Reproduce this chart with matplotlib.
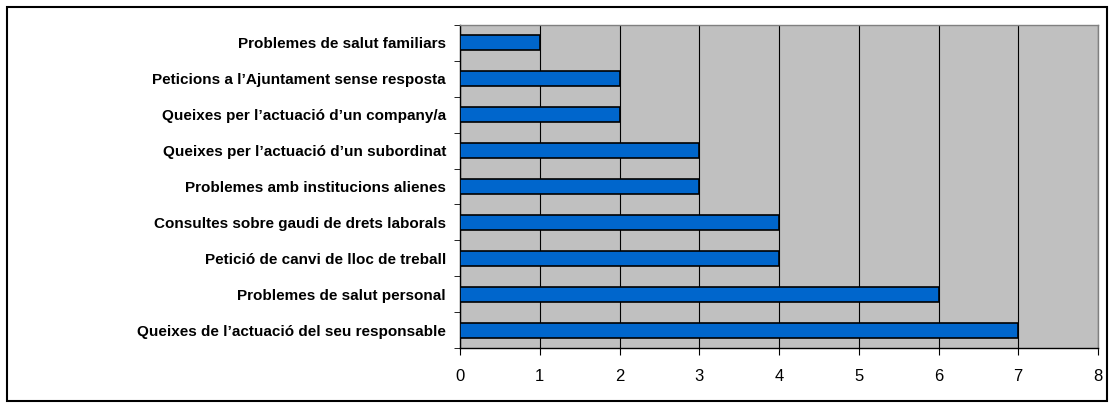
import matplotlib
matplotlib.use("Agg")
import matplotlib.pyplot as plt
from matplotlib.patches import Rectangle

# categories from bottom to top, as drawn
categories = [
    "Queixes de l\u2019actuació del seu responsable",
    "Problemes de salut personal",
    "Petició de canvi de lloc de treball",
    "Consultes sobre gaudi de drets laborals",
    "Problemes amb institucions alienes",
    "Queixes per l\u2019actuació d\u2019un subordinat",
    "Queixes per l\u2019actuació d\u2019un company/a",
    "Peticions a l\u2019Ajuntament sense resposta",
    "Problemes de salut familiars",
]
values = [7, 6, 4, 4, 3, 3, 2, 2, 1]
xticks = [0, 1, 2, 3, 4, 5, 6, 7, 8]

plt.rcParams["font.family"] = ["Liberation Sans", "DejaVu Sans"]

W, H = 1114, 408
fig = plt.figure(figsize=(W / 100, H / 100), dpi=100)
fig.patch.set_facecolor("white")
ax = fig.add_axes([460 / W, 1 - 348 / H, 638 / W, 323 / H])
ax.set_facecolor("#C0C0C0")

ypos = list(range(len(categories)))
ax.barh(ypos, values, height=0.42, color="#0066CC", edgecolor="black",
        linewidth=1.2, zorder=3)

ax.set_xlim(0, 8)
ax.set_ylim(-0.5, len(categories) - 0.5)
ax.set_xticks(xticks)
ax.set_xticklabels([str(t) for t in xticks], fontsize=12)
ax.set_yticks(ypos)
ax.set_yticklabels(categories, fontsize=11, fontweight="bold")
ax.tick_params(axis="y", length=0, pad=10)
ax.set_yticks([y - 0.5 for y in ypos] + [len(categories) - 0.5], minor=True)
ax.tick_params(axis="y", which="minor", length=4, direction="out", color="black")
ax.tick_params(axis="x", length=5, direction="out", color="black", pad=10)

ax.grid(axis="x", color="black", linewidth=0.8, zorder=1)
ax.set_axisbelow(True)

for side in ["top", "right"]:
    ax.spines[side].set_color("#808080")
    ax.spines[side].set_linewidth(1)
for side in ["left", "bottom"]:
    ax.spines[side].set_color("black")
    ax.spines[side].set_linewidth(1)

# outer chart frame
fig.patches.append(Rectangle((7 / W, 1 - 401 / H), 1100 / W, 394 / H,
                             transform=fig.transFigure, fill=False,
                             edgecolor="black", linewidth=1.5))

fig.savefig("out.png", dpi=100)
